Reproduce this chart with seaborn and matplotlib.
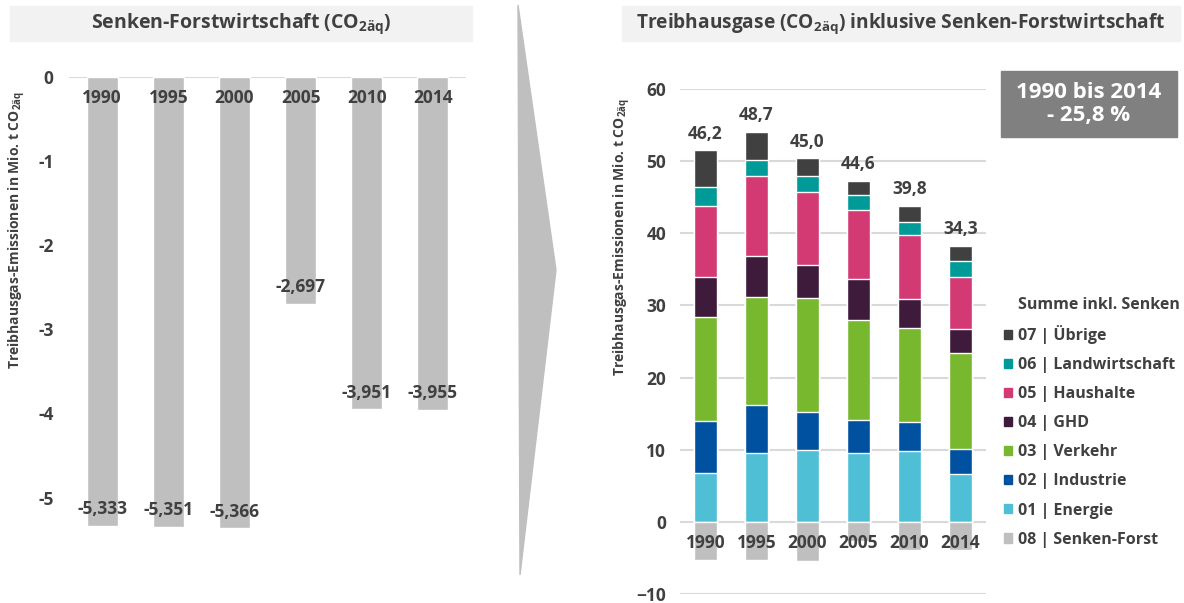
import matplotlib
matplotlib.use("Agg")
import matplotlib.pyplot as plt
from matplotlib.patches import Rectangle, Polygon, Patch
import seaborn as sns

sns.set_style("white")
plt.rcParams['font.family'] = ['Open Sans', 'DejaVu Sans']
plt.rcParams['font.weight'] = 'bold'
plt.rcParams['mathtext.fontset'] = 'custom'
plt.rcParams['mathtext.rm'] = 'Open Sans:bold'
plt.rcParams['mathtext.it'] = 'Open Sans:bold'
plt.rcParams['mathtext.bf'] = 'Open Sans:bold'
plt.rcParams['mathtext.default'] = 'rm'

TXT = '#404040'
W, H = 1184, 603
FS = 12.5

years = ['1990', '1995', '2000', '2005', '2010', '2014']
senken = [-5.333, -5.351, -5.366, -2.697, -3.951, -3.955]

# sector values (Mio. t CO2aeq), bottom -> top
energie = [6.8, 9.6, 9.9, 9.6, 9.8, 6.6]
industrie = [7.2, 6.6, 5.3, 4.5, 4.0, 3.5]
verkehr = [14.4, 14.9, 15.8, 13.9, 13.1, 13.3]
ghd = [5.6, 5.8, 4.6, 5.7, 4.0, 3.4]
haushalte = [9.8, 11.0, 10.1, 9.5, 8.8, 7.1]
landwirtschaft = [2.6, 2.3, 2.3, 2.1, 1.9, 2.3]
uebrige = [5.1, 3.85, 2.4, 2.0, 2.2, 2.05]
totals = [46.2, 48.7, 45.0, 44.6, 39.8, 34.3]

sectors = [
    ('01 | Energie', energie, '#4fbfd6'),
    ('02 | Industrie', industrie, '#0052a0'),
    ('03 | Verkehr', verkehr, '#77b82f'),
    ('04 | GHD', ghd, '#3e1a3b'),
    ('05 | Haushalte', haushalte, '#d33a74'),
    ('06 | Landwirtschaft', landwirtschaft, '#009b98'),
    ('07 | Übrige', uebrige, '#404040'),
]
SENKEN_COL = '#bfbfbf'


def fx(px):
    return px / W


def fy(py):
    return 1 - py / H


def fmt(v, nd):
    return f'{v:.{nd}f}'.replace('.', ',')


fig = plt.figure(figsize=(W / 100, H / 100), dpi=100)

# title boxes
for x0, x1, title, fs in [(10, 472, 'Senken-Forstwirtschaft (CO$_{2äq}$)', 14),
                          (622, 1180, 'Treibhausgase (CO$_{2äq}$) inklusive Senken-Forstwirtschaft', 13.8)]:
    fig.patches.append(Rectangle((fx(x0), fy(41)), fx(x1 - x0), (41 - 6) / H,
                                 transform=fig.transFigure, color='#f2f2f2', zorder=0))
    fig.text(fx((x0 + x1) / 2), fy(24), title, ha='center', va='center',
             fontsize=fs, color=TXT, fontweight='bold')

# arrow between panels
fig.patches.append(Polygon([(fx(518), fy(5)), (fx(556), fy(270)), (fx(520), fy(575))],
                           closed=True, transform=fig.transFigure, color='#bfbfbf', zorder=0))

# ---------- left panel ----------
top, bot = 77, 548
ax1 = fig.add_axes([fx(69), fy(bot), fx(466 - 69), (bot - top) / H])
sns.barplot(x=years, y=senken, color=SENKEN_COL, saturation=1, width=0.47, ax=ax1)
ax1.set_ylim(-5.6, 0)
ax1.set_xlim(-0.5, 5.5)
ax1.axhline(0, color='#d9d9d9', lw=1.5, zorder=0)
ax1.set_yticks([0, -1, -2, -3, -4, -5])
ax1.set_yticklabels(['0', '-1', '-2', '-3', '-4', '-5'])
ax1.set_xticks([])
ax1.tick_params(axis='y', length=0, pad=11, labelsize=FS, labelcolor=TXT)
for lab in ax1.get_yticklabels():
    lab.set_fontweight('bold')
for s in ax1.spines.values():
    s.set_visible(False)
ax1.set_xlabel('')
ax1.set_ylabel('')
for i, (yr, v) in enumerate(zip(years, senken)):
    ax1.text(i, -0.25, yr, ha='center', va='center', fontsize=FS, color=TXT, fontweight='bold')
    ax1.annotate(fmt(v, 3), (i, v), xytext=(0, 12), textcoords='offset points',
                 ha='center', va='center', fontsize=FS, color=TXT, fontweight='bold')
fig.text(fx(17), fy(230), 'Treibhausgas-Emissionen in Mio. t CO$_{2äq}$', rotation=90,
         ha='center', va='center', fontsize=10, color=TXT, fontweight='bold')

# ---------- right panel ----------
top2, bot2 = 89, 594
ax2 = fig.add_axes([fx(680), fy(bot2), fx(986 - 680), (bot2 - top2) / H])
cum = []
run = [0.0] * len(years)
for name, vals, col in sectors:
    run = [a + b for a, b in zip(run, vals)]
    cum.append((name, list(run), col))
for name, vals, col in reversed(cum):
    sns.barplot(x=years, y=vals, color=col, saturation=1, width=0.45,
                edgecolor='white', linewidth=1, ax=ax2)
sns.barplot(x=years, y=senken, color=SENKEN_COL, saturation=1, width=0.45,
            edgecolor='white', linewidth=1, ax=ax2)
ax2.set_ylim(-10, 60)
ax2.set_xlim(-0.5, 5.5)
ax2.set_yticks(range(-10, 61, 10))
ax2.set_xticks([])
ax2.grid(axis='y', color='#d9d9d9', lw=1.5)
ax2.set_axisbelow(True)
ax2.tick_params(axis='y', length=0, pad=10, labelsize=FS, labelcolor=TXT)
for lab in ax2.get_yticklabels():
    lab.set_fontweight('bold')
for s in ax2.spines.values():
    s.set_visible(False)
ax2.set_xlabel('')
ax2.set_ylabel('')
tops = cum[-1][1]
for i, (yr, t, tot) in enumerate(zip(years, tops, totals)):
    ax2.text(i, -3.0, yr, ha='center', va='center', fontsize=FS, color=TXT, fontweight='bold')
    ax2.annotate(fmt(tot, 1), (i, t), xytext=(0, 12), textcoords='offset points',
                 ha='center', va='center', fontsize=FS, color=TXT, fontweight='bold')
fig.text(fx(622), fy(237), 'Treibhausgas-Emissionen in Mio. t CO$_{2äq}$', rotation=90,
         ha='center', va='center', fontsize=10, color=TXT, fontweight='bold')

# summary box
fig.patches.append(Rectangle((fx(1001), fy(137)), fx(1177 - 1001), (137 - 71) / H,
                             transform=fig.transFigure, color='#808080', zorder=0))
fig.text(fx(1089), fy(104), '1990 bis 2014\n- 25,8 %', ha='center', va='center',
         fontsize=16, color='white', fontweight='bold', linespacing=1.1)

# legend
fig.text(fx(1018), fy(305), 'Summe inkl. Senken', ha='left', va='center',
         fontsize=11.5, color=TXT, fontweight='bold')
handles = [Patch(color=col, label=name) for name, vals, col in reversed(sectors)]
handles.append(Patch(color=SENKEN_COL, label='08 | Senken-Forst'))
leg = fig.legend(handles=handles, loc='upper left', bbox_to_anchor=(fx(1004), fy(325)),
                 frameon=False, borderpad=0, borderaxespad=0,
                 handlelength=0.5, handleheight=0.5, handletextpad=0.4,
                 labelspacing=0.82, fontsize=11.5)
for t in leg.get_texts():
    t.set_color(TXT)
    t.set_fontweight('bold')

fig.savefig('out.png', dpi=100)
